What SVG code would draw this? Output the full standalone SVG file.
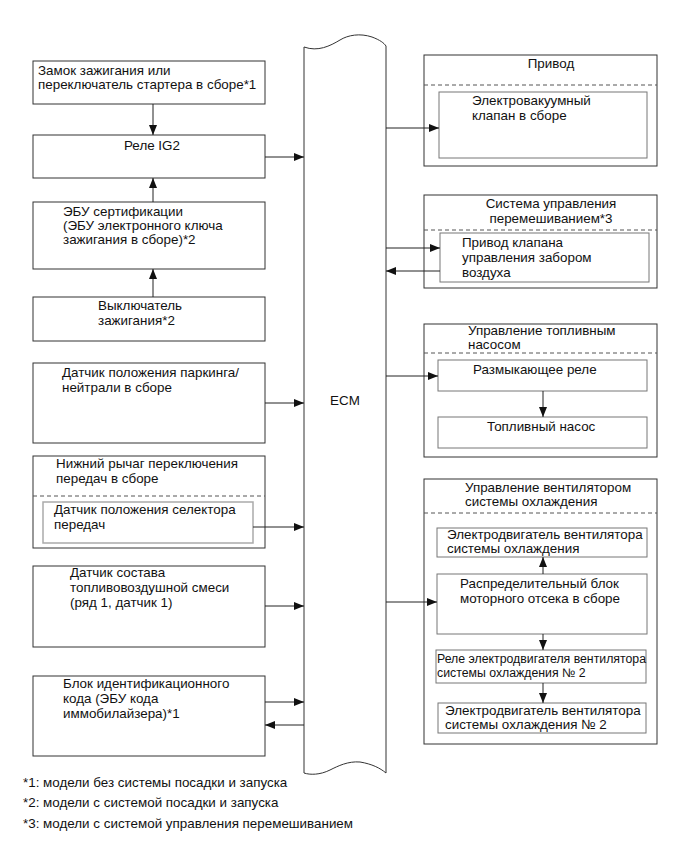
<svg xmlns="http://www.w3.org/2000/svg" width="691" height="855" viewBox="0 0 691 855">
<defs>
<marker id="ah" viewBox="0 0 10 8" refX="10" refY="4" markerWidth="10" markerHeight="8" markerUnits="userSpaceOnUse" orient="auto">
<path d="M0,0 L10,4 L0,8 Z" fill="#111"/>
</marker>
<style>
.box{fill:#fff;stroke:#333;stroke-width:1}
.inner{fill:#fff;stroke:#777;stroke-width:1}
.innerL{fill:#fff;stroke:#aaa;stroke-width:1.5}
.dash{stroke:#555;stroke-width:1;stroke-dasharray:4,3;fill:none}
.ln{stroke:#222;stroke-width:1;fill:none;marker-end:url(#ah)}
text{font-family:"Liberation Sans",Arial,sans-serif;font-size:13.4px;fill:#111}
.mid{text-anchor:middle}
.sm{font-size:12.3px}
.fn{font-size:13.4px}
</style>
</defs>
<rect width="691" height="855" fill="#fff"/>

<g id="ecm">
<path d="M304,47 C318,52 330,46 340,40 C348,35 360,33 372,37 C380,40 384,43 386,46 L386,773 C380,768 372,764 360,762 C348,761 338,766 330,770 C320,775 310,775 304,773 Z" fill="#fff" stroke="#333" stroke-width="1"/>
<text x="345" y="405" class="mid">ECM</text>
</g>

<g id="n1">
<rect class="box" x="33" y="61" width="232" height="43"/>
<text x="38" y="75">Замок зажигания или</text>
<text x="38" y="89">переключатель стартера в сборе*1</text>
</g>
<g id="n2">
<rect class="box" x="33" y="135" width="232" height="43"/>
<text x="152" y="150" class="mid">Реле IG2</text>
</g>
<g id="n3">
<rect class="box" x="33" y="202" width="232" height="67"/>
<text x="63" y="216">ЭБУ сертификации</text>
<text x="63" y="230">(ЭБУ электронного ключа</text>
<text x="63" y="244">зажигания в сборе)*2</text>
</g>
<g id="n4">
<rect class="box" x="33" y="297" width="232" height="44"/>
<text x="98" y="310">Выключатель</text>
<text x="98" y="325">зажигания*2</text>
</g>
<g id="n5">
<rect class="box" x="33" y="363" width="232" height="80"/>
<text x="62" y="377">Датчик положения паркинга/</text>
<text x="62" y="392">нейтрали в сборе</text>
</g>
<g id="n6">
<rect class="box" x="33" y="456" width="232" height="92"/>
<text x="56" y="468">Нижний рычаг переключения</text>
<text x="56" y="483">передач в сборе</text>
<line class="dash" x1="33" y1="496" x2="265" y2="496"/>
<rect class="innerL" x="43" y="502" width="210" height="41"/>
<text x="54" y="514">Датчик положения селектора</text>
<text x="54" y="529">передач</text>
</g>
<g id="n7">
<rect class="box" x="33" y="566" width="232" height="81"/>
<text x="70" y="577">Датчик состава</text>
<text x="70" y="592">топливовоздушной смеси</text>
<text x="70" y="607">(ряд 1, датчик 1)</text>
</g>
<g id="n8">
<rect class="box" x="33" y="676" width="232" height="80"/>
<text x="63" y="688">Блок идентификационного</text>
<text x="63" y="703">кода (ЭБУ кода</text>
<text x="63" y="718">иммобилайзера)*1</text>
</g>

<g id="r1">
<rect class="box" x="424" y="55" width="233" height="111"/>
<text x="551" y="68" class="mid">Привод</text>
<line class="dash" x1="424" y1="85" x2="657" y2="85"/>
<rect class="inner" x="439" y="92" width="208" height="66"/>
<text x="472" y="105">Электровакуумный</text>
<text x="472" y="120">клапан в сборе</text>
</g>
<g id="r2">
<rect class="box" x="424" y="195" width="233" height="93"/>
<text x="551" y="208" class="mid">Система управления</text>
<text x="551" y="223" class="mid">перемешиванием*3</text>
<line class="dash" x1="424" y1="230" x2="657" y2="230"/>
<rect class="inner" x="440" y="233" width="209" height="49"/>
<text x="462" y="247">Привод клапана</text>
<text x="462" y="262">управления забором</text>
<text x="462" y="277">воздуха</text>
</g>
<g id="r3">
<rect class="box" x="424" y="324" width="233" height="133"/>
<text x="468" y="335">Управление топливным</text>
<text x="468" y="349">насосом</text>
<line class="dash" x1="424" y1="353" x2="657" y2="353"/>
<rect class="inner" x="438" y="360" width="209" height="31"/>
<text x="473" y="374">Размыкающее реле</text>
<rect class="inner" x="438" y="417" width="209" height="31"/>
<text x="487" y="431">Топливный насос</text>
</g>
<g id="r4">
<rect class="box" x="424" y="479" width="233" height="265"/>
<text x="465" y="492">Управление вентилятором</text>
<text x="465" y="506">системы охлаждения</text>
<line class="dash" x1="424" y1="513" x2="657" y2="513"/>
<rect class="inner" x="437" y="528" width="210" height="29"/>
<text x="447" y="539">Электродвигатель вентилятора</text>
<text x="447" y="553">системы охлаждения</text>
<rect class="inner" x="437" y="574" width="210" height="60"/>
<text x="460" y="588">Распределительный блок</text>
<text x="460" y="603">моторного отсека в сборе</text>
<rect class="inner" x="436" y="650" width="210" height="33"/>
<text x="437" y="663" class="sm">Реле электродвигателя вентилятора</text>
<text x="437" y="677" class="sm">системы охлаждения № 2</text>
<rect class="inner" x="438" y="703" width="208" height="30"/>
<text x="445" y="715">Электродвигатель вентилятора</text>
<text x="445" y="729">системы охлаждения № 2</text>
</g>

<g id="connectors">
<line class="ln" x1="153" y1="104" x2="153" y2="135"/>
<line class="ln" x1="265" y1="157" x2="304" y2="157"/>
<line class="ln" x1="153" y1="202" x2="153" y2="178"/>
<line class="ln" x1="153" y1="297" x2="153" y2="269"/>
<line class="ln" x1="265" y1="403" x2="304" y2="403"/>
<line class="ln" x1="253" y1="527" x2="304" y2="527"/>
<line class="ln" x1="265" y1="606" x2="304" y2="606"/>
<line class="ln" x1="265" y1="702" x2="304" y2="702"/>
<line class="ln" x1="304" y1="725" x2="265" y2="725"/>
<line class="ln" x1="386" y1="128" x2="439" y2="128"/>
<line class="ln" x1="386" y1="248" x2="440" y2="248"/>
<line class="ln" x1="440" y1="271" x2="386" y2="271"/>
<line class="ln" x1="386" y1="376" x2="438" y2="376"/>
<line class="ln" x1="543" y1="391" x2="543" y2="417"/>
<line class="ln" x1="386" y1="602" x2="437" y2="602"/>
<line class="ln" x1="543" y1="574" x2="543" y2="557"/>
<line class="ln" x1="543" y1="634" x2="543" y2="650"/>
<line class="ln" x1="543" y1="683" x2="543" y2="703"/>
</g>

<g id="notes">
<text x="23" y="787" class="fn">*1: модели без системы посадки и запуска</text>
<text x="23" y="807" class="fn">*2: модели с системой посадки и запуска</text>
<text x="23" y="828" class="fn">*3: модели с системой управления перемешиванием</text>
</g>
</svg>
